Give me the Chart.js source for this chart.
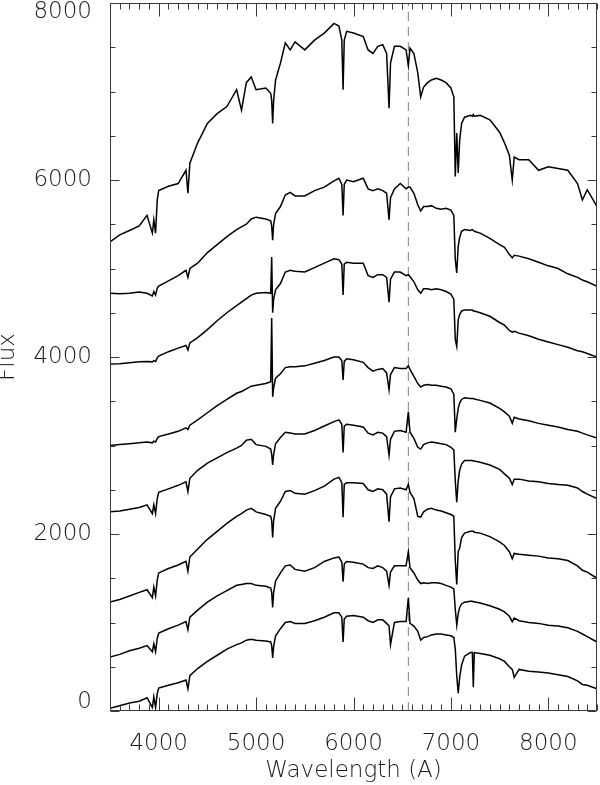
<!DOCTYPE html>
<html><head><meta charset="utf-8">
<script src="https://cdn.jsdelivr.net/npm/chart.js@4"></script>
<style>html,body{margin:0;padding:0;background:#fff;} #wrap{width:600px;height:785px;}</style>
</head><body><div id="wrap"><canvas id="c" width="600" height="785"></canvas></div>
<script>
// Wavelength grid (Angstrom)
const wavelengths = [
 3500,3600,3700,3800,3880,3935,3950,3968,3985,4000,
 4100,4200,4280,4300,4320,4400,4500,4600,4700,4800,
 4850,4900,4950,5000,5100,5150,5160,5170,5180,5200,
 5250,5300,5350,5400,5500,5600,5700,5800,5850,5880,
 5893,5905,5930,6000,6100,6150,6200,6250,6300,6340,
 6365,6380,6420,6480,6540,6563,6580,6620,6660,6690,
 6720,6760,6800,6850,6900,6950,7000,7030,7045,7060,
 7075,7090,7110,7140,7200,7220,7230,7240,7300,7400,
 7500,7550,7600,7630,7650,7700,7800,7900,8000,8100,
 8200,8300,8350,8400,8500];

const spec1 = [
 5300,5380,5430,5480,5600,5400,5550,5400,5775,5880,
 5930,5960,6110,5850,6190,6420,6640,6750,6830,7020,
 6790,7100,7165,7020,7040,6980,6900,6640,6900,7130,
 7320,7550,7470,7560,7470,7580,7660,7770,7740,7580,
 7020,7580,7680,7660,7620,7470,7430,7510,7530,7430,
 6810,7320,7510,7510,7470,7290,7490,7430,7210,6940,
 7050,7100,7130,7150,7130,7100,7040,6940,6040,6530,
 6080,6450,6640,6710,6730,6720,6740,6720,6730,6680,
 6540,6420,6280,6000,6260,6230,6230,6110,6150,6130,
 6110,5960,5775,5890,5700];
const spec2 = [
 4720,4715,4720,4735,4720,4690,4740,4700,4780,4800,
 4860,4920,4980,4900,5000,5060,5180,5270,5360,5440,
 5470,5500,5560,5580,5560,5540,5480,5320,5500,5620,
 5700,5830,5860,5820,5820,5880,5920,5990,6020,5950,
 5600,5950,6000,5980,6020,5900,5880,5900,5880,5850,
 5550,5800,5900,5960,5900,5920,5920,5850,5720,5650,
 5700,5700,5710,5680,5670,5680,5660,5600,5100,4950,
 5250,5350,5420,5440,5430,5440,5430,5420,5400,5340,
 5270,5240,5160,5120,5150,5140,5110,5070,5030,5000,
 4940,4900,4870,4850,4800];
const spec3 = [
 3920,3925,3935,3945,3950,3945,3960,3950,3990,4010,
 4060,4100,4130,4080,4160,4220,4310,4410,4500,4580,
 4620,4660,4700,4720,4730,4720,5130,4500,4650,4760,
 4830,4960,4980,4970,4960,5010,5060,5110,5100,5050,
 4700,5050,5070,5060,5060,4920,4900,4930,4930,4900,
 4620,4880,4960,4960,4920,4930,4910,4850,4760,4720,
 4770,4770,4760,4770,4760,4740,4710,4650,4200,4120,
 4420,4480,4520,4530,4530,4530,4520,4520,4500,4460,
 4390,4360,4300,4280,4290,4270,4240,4200,4170,4140,
 4110,4070,4060,4040,4000];
const spec4 = [
 3000,3010,3020,3030,3040,3030,3050,3040,3080,3100,
 3130,3160,3200,3180,3230,3290,3370,3450,3520,3590,
 3610,3640,3670,3680,3700,3720,4440,3550,3650,3760,
 3810,3880,3890,3890,3900,3930,3960,4000,4000,3960,
 3740,3950,3980,3970,3940,3880,3840,3860,3870,3820,
 3630,3800,3880,3870,3870,3900,3860,3780,3700,3660,
 3680,3690,3680,3680,3670,3660,3640,3580,3150,3300,
 3420,3480,3520,3540,3530,3530,3530,3525,3510,3480,
 3420,3380,3330,3250,3320,3300,3280,3250,3230,3210,
 3180,3160,3140,3120,3085];
const spec5 = [
 2250,2260,2280,2300,2330,2230,2330,2230,2400,2470,
 2510,2550,2590,2480,2630,2720,2800,2860,2920,2970,
 3000,3060,3070,3010,2990,2960,2900,2780,2900,3020,
 3090,3150,3140,3130,3130,3170,3220,3270,3290,3240,
 2920,3220,3240,3230,3210,3140,3120,3150,3140,3100,
 2890,3070,3160,3170,3150,3380,3150,3080,2980,2960,
 3010,3030,3040,3030,3020,3010,2980,2950,2600,2360,
 2600,2720,2790,2830,2830,2830,2825,2825,2810,2780,
 2730,2680,2630,2560,2620,2620,2600,2590,2570,2560,
 2550,2520,2480,2450,2400];
const spec6 = [
 1230,1260,1300,1340,1370,1280,1400,1300,1480,1560,
 1610,1650,1690,1580,1740,1830,1940,2030,2120,2200,
 2230,2270,2290,2250,2220,2200,2150,1960,2150,2290,
 2370,2480,2490,2460,2450,2490,2540,2620,2640,2580,
 2190,2560,2580,2580,2570,2500,2480,2510,2500,2450,
 2140,2420,2510,2520,2500,2560,2470,2400,2200,2190,
 2250,2280,2290,2270,2260,2240,2220,2200,1700,1430,
 1800,1840,1960,2010,2030,2030,2030,2020,2010,1970,
 1910,1870,1800,1720,1780,1770,1760,1750,1730,1720,
 1700,1640,1590,1570,1500];
const spec7 = [
 610,640,680,710,740,670,760,670,820,880,
 930,970,1010,920,1060,1140,1230,1300,1360,1420,
 1430,1440,1440,1420,1410,1390,1340,1170,1340,1470,
 1560,1640,1650,1600,1580,1620,1690,1730,1740,1680,
 1460,1660,1690,1680,1660,1620,1610,1640,1620,1580,
 1420,1570,1640,1640,1640,1800,1620,1560,1480,1440,
 1450,1440,1450,1450,1440,1420,1400,1380,1150,970,
 1100,1170,1210,1230,1240,1240,1235,1235,1220,1190,
 1150,1120,1070,1010,1050,1020,1000,990,970,960,
 940,900,870,840,780];
const spec8 = [
 30,60,90,110,150,40,160,40,200,260,
 290,320,350,250,400,480,560,630,700,750,
 770,800,810,800,790,780,740,600,730,850,
 930,1000,1010,990,990,1020,1060,1110,1110,1060,
 780,1040,1070,1080,1060,1020,1000,1030,1030,990,
 960,750,1000,1010,1010,1275,990,960,900,800,
 830,840,860,870,870,860,850,830,700,400,
 200,380,520,620,660,660,270,660,650,630,
 590,560,500,470,380,470,450,440,430,410,
 390,340,300,290,250];

const halphaLine = 6563;
const xRange = [3500, 8500];
const yRange = [0, 8000];
const xTickLabels = [4000, 5000, 6000, 7000, 8000];
const yTickLabels = [0, 2000, 4000, 6000, 8000];
const xMinorStep = 100;
const yMinorStep = 500;
const xTitle = 'Wavelength (A)';
const yTitle = 'Flux';

const allSpectra = [spec1, spec2, spec3, spec4, spec5, spec6, spec7, spec8];

const FONT = "'DejaVu Sans', sans-serif";
const AXIS = '#3a3a3a';
const TXT = '#1a1a1a';

const datasets = allSpectra.map((s, k) => ({
  label: 'spectrum ' + (k + 1),
  data: wavelengths.map((w, i) => ({x: w, y: s[i]})),
  borderColor: '#000', borderWidth: 1.5, pointRadius: 0, tension: 0, fill: false
}));
datasets.push({
  label: 'H-alpha',
  data: [{x: halphaLine, y: yRange[0]}, {x: halphaLine, y: yRange[1]}],
  borderColor: '#808080', borderWidth: 1, borderDash: [9, 6], pointRadius: 0, fill: false
});

const frameTicks = {
  id: 'frameTicks',
  afterDatasetsDraw(chart) {
    const {ctx, chartArea: a, scales: {x, y}} = chart;
    ctx.save();
    ctx.strokeStyle = AXIS; ctx.lineWidth = 1;
    const L = Math.round(a.left) + 0.5, R = Math.round(a.right) - 0.5;
    const T = Math.round(a.top) + 0.5, B = Math.round(a.bottom) - 0.5;
    ctx.strokeRect(L, T, R - L, B - T);
    ctx.beginPath();
    x.ticks.forEach(t => {
      const px = Math.round(x.getPixelForValue(t.value)) + 0.5;
      const len = xTickLabels.includes(t.value) ? 13 : 6;
      ctx.moveTo(px, B); ctx.lineTo(px, B - len);
      ctx.moveTo(px, T); ctx.lineTo(px, T + len);
    });
    y.ticks.forEach(t => {
      const py = Math.round(y.getPixelForValue(t.value)) + 0.5;
      const len = yTickLabels.includes(t.value) ? 9 : 5;
      ctx.moveTo(L, py); ctx.lineTo(L + len, py);
      ctx.moveTo(R, py); ctx.lineTo(R - len, py);
    });
    ctx.stroke();
    ctx.restore();
  }
};

new Chart(document.getElementById('c'), {
  type: 'line',
  data: {datasets},
  plugins: [frameTicks],
  options: {
    responsive: false, devicePixelRatio: 1, animation: false,
    layout: {padding: {top: 3, right: 3, left: 0, bottom: 0}},
    plugins: {legend: {display: false}, tooltip: {enabled: false}},
    scales: {
      x: {
        type: 'linear', min: xRange[0], max: xRange[1],
        grid: {display: false}, border: {display: false},
        afterBuildTicks: (s) => {
          const t = [];
          for (let v = xRange[0]; v <= xRange[1]; v += xMinorStep) t.push({value: v});
          s.ticks = t;
        },
        afterFit: (s) => { s.height = 74; s.paddingLeft = 0; s.paddingRight = 0; },
        ticks: {
          autoSkip: false, maxRotation: 0, minRotation: 0, padding: 17,
          color: TXT, font: {family: FONT, size: 23, weight: '200', lineHeight: '16px'},
          callback: (v) => xTickLabels.includes(v) ? String(v) : ''
        },
        title: {display: true, text: xTitle, color: TXT,
          font: {family: FONT, size: 23, weight: '200', lineHeight: '17px'}, padding: {top: 0, bottom: 5}}
      },
      y: {
        type: 'linear', min: yRange[0], max: yRange[1],
        grid: {display: false}, border: {display: false},
        afterBuildTicks: (s) => {
          const t = [];
          for (let v = yRange[0]; v <= yRange[1]; v += yMinorStep) t.push({value: v});
          s.ticks = t;
        },
        afterFit: (s) => { s.width = 110; s.paddingTop = 0; s.paddingBottom = 0; },
        ticks: {
          autoSkip: false, padding: 10,
          color: TXT, font: {family: FONT, size: 23, weight: '200', lineHeight: '18px'},
          callback: (v) => {
            if (v === yRange[1]) return ['', String(v)];
            if (v === yRange[0]) return [String(v), ''];
            return yTickLabels.includes(v) ? String(v) : '';
          }
        },
        title: {display: true, text: yTitle, color: TXT,
          font: {family: FONT, size: 23, weight: '200', lineHeight: '17px'}, padding: {top: 0, bottom: 0}}
      }
    }
  }
});
</script></body></html>
